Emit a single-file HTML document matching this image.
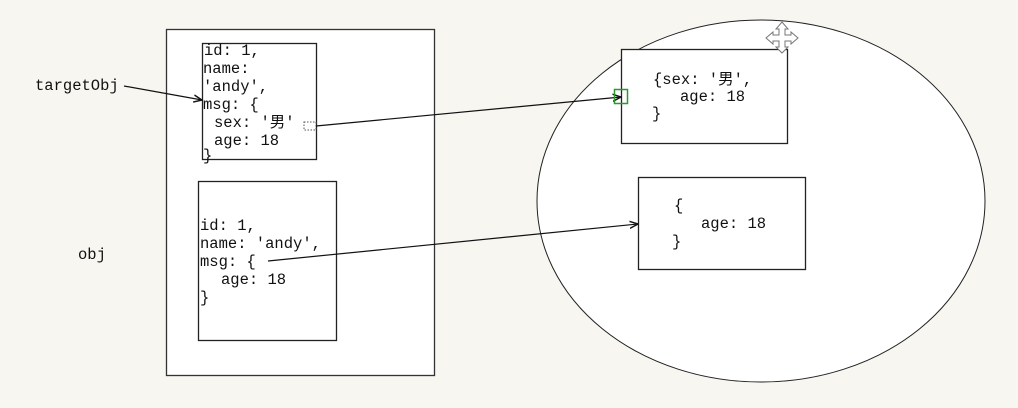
<!DOCTYPE html>
<html><head><meta charset="utf-8"><style>
html,body{margin:0;padding:0;background:#f8f6f0;}
svg{display:block;}
text{font-family:"Liberation Mono","Noto Sans CJK SC",monospace;font-size:15.5px;fill:#111;}
</style></head><body>
<svg width="1018" height="408" viewBox="0 0 1018 408">
<defs><marker id="ah" markerWidth="8" markerHeight="8" refX="7" refY="4" orient="auto"><path d="M0,1 L7,4 L0,7" fill="none" stroke="#111" stroke-width="1.2"/></marker></defs>
<rect x="0" y="0" width="1018" height="408" fill="#f8f6f0"/>
<ellipse cx="761" cy="201" rx="224" ry="181" fill="#fff" stroke="#222" stroke-width="1"/>
<rect x="166.5" y="29.5" width="268" height="346" fill="#fff" stroke="#333" stroke-width="1.3"/>
<g>
<rect x="202.5" y="43.5" width="114" height="116" fill="#fff" stroke="#222" stroke-width="1.3"/>
<text x="204" y="55">id: 1,</text>
<text x="203" y="73">name:</text>
<text x="203" y="91">'andy',</text>
<text x="203" y="109">msg: {</text>
<text x="214" y="127">sex: '男'</text>
<text x="214" y="145">age: 18</text>
<text x="203" y="160">}</text>
</g>
<g>
<rect x="198.5" y="181.5" width="138" height="159" fill="#fff" stroke="#222" stroke-width="1.3"/>
<text x="200" y="230">id: 1,</text>
<text x="200" y="248">name: 'andy',</text>
<text x="200" y="266">msg: {</text>
<text x="221" y="284">age: 18</text>
<text x="200" y="302">}</text>
</g>
<g>
<rect x="621.5" y="49.5" width="166" height="94" fill="#fff" stroke="#222" stroke-width="1.3"/>
<text x="653" y="84">{sex: '男',</text>
<text x="680" y="101">age: 18</text>
<text x="652" y="118">}</text>
</g>
<g>
<rect x="638.5" y="177.5" width="167" height="92" fill="#fff" stroke="#222" stroke-width="1.3"/>
<text x="674" y="210">{</text>
<text x="701" y="228">age: 18</text>
<text x="672" y="246">}</text>
</g>
<text x="35" y="90">targetObj</text>
<text x="78" y="259">obj</text>
<line x1="124" y1="86" x2="202" y2="100" stroke="#111" stroke-width="1.2" marker-end="url(#ah)"/>
<rect x="304" y="122" width="12" height="8" fill="none" stroke="#555" stroke-dasharray="1.5,1.5"/>
<line x1="316" y1="126" x2="621" y2="97" stroke="#111" stroke-width="1.2" marker-end="url(#ah)"/>
<rect x="614.5" y="89.5" width="13" height="14" fill="none" stroke="#2a9a2a" stroke-width="1.5"/>
<line x1="268" y1="261" x2="638" y2="224" stroke="#111" stroke-width="1.2" marker-end="url(#ah)"/>
<g fill="#fff" stroke="#777" stroke-width="1">
<path d="M782,22 L788,29 L785,29 L785,35 L791,35 L791,32 L798,38 L791,44 L791,41 L785,41 L785,47 L788,47 L782,53 L776,47 L779,47 L779,41 L773,41 L773,44 L766,38 L773,32 L773,35 L779,35 L779,29 L776,29 Z"/>
</g>
</svg>
</body></html>
